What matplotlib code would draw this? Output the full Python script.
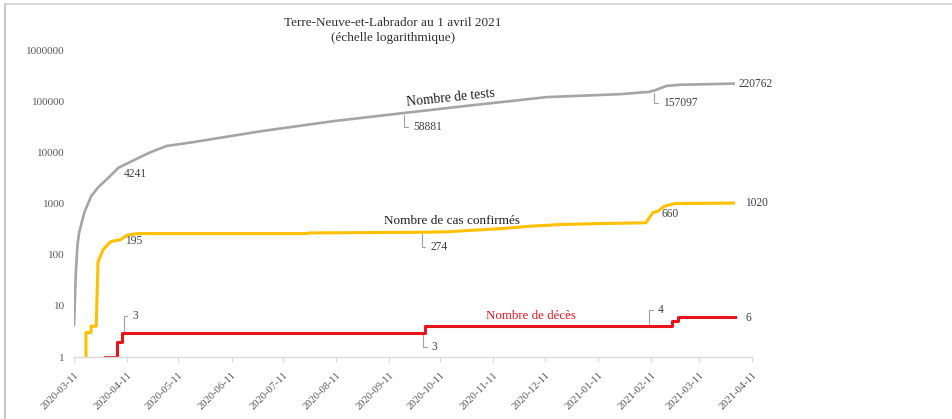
import matplotlib
matplotlib.use("Agg")
import matplotlib.pyplot as plt
from matplotlib.lines import Line2D
import pandas as pd

# ---------------- data ----------------
test_dates = ["2020-03-11", "2020-03-12", "2020-03-13", "2020-03-14", "2020-03-17",
              "2020-03-21", "2020-03-25", "2020-03-31", "2020-04-06", "2020-04-14",
              "2020-04-24", "2020-05-04", "2020-05-20", "2020-06-28", "2020-08-09",
              "2020-09-20", "2020-10-25", "2020-12-12", "2021-01-24", "2021-02-10",
              "2021-02-14", "2021-02-20", "2021-02-28", "2021-04-01"]
test_values = [4, 40, 150, 270, 665,
               1390, 2050, 3170, 5010, 6780,
               9840, 13300, 15900, 25800, 40500,
               58881, 80000, 120000, 137000, 152000,
               166000, 199000, 209000, 220762]

case_dates = ["2020-03-18", "2020-03-18", "2020-03-21", "2020-03-21", "2020-03-24",
              "2020-03-25", "2020-03-28", "2020-04-01", "2020-04-03", "2020-04-07",
              "2020-04-11", "2020-04-17", "2020-07-25", "2020-07-26", "2020-09-30",
              "2020-10-15", "2020-10-29", "2020-11-16", "2020-12-02", "2020-12-20",
              "2021-01-12", "2021-02-08", "2021-02-12", "2021-02-15", "2021-02-19",
              "2021-02-25", "2021-04-01"]
case_values = [1, 3, 3, 4, 4,
               72, 125, 175, 185, 195,
               240, 258, 258, 266, 274,
               280, 299, 323, 359, 388,
               405, 420, 660, 705, 890,
               1000, 1020]

death_dates = ["2020-03-29", "2020-04-05", "2020-04-08", "2020-10-02",
               "2021-02-23", "2021-02-27", "2021-04-01"]
death_values = [1, 2, 3, 4, 5, 6, 6]

xtick_labels = ["2020-03-11", "2020-04-11", "2020-05-11", "2020-06-11", "2020-07-11",
                "2020-08-11", "2020-09-11", "2020-10-11", "2020-11-11", "2020-12-11",
                "2021-01-11", "2021-02-11", "2021-03-11", "2021-04-11"]
ytick_values = [1, 10, 100, 1000, 10000, 100000, 1000000]
ytick_labels = ["1", "10", "100", "1000", "10000", "100000", "1000000"]

title_lines = ["Terre-Neuve-et-Labrador au 1 avril 2021", "(échelle logarithmique)"]

# ---------------- styling ----------------
plt.rcParams["font.family"] = ["Liberation Serif", "DejaVu Serif"]
GRAY = "#a5a5a5"
YELLOW = "#ffc000"
RED = "#e8141c"
TXT = "#404040"
TICK = "#595959"
AXC = "#d9d9d9"

fig = plt.figure(figsize=(9.52, 4.19), dpi=100)
ax = fig.add_axes([74 / 952, 1 - 357 / 419, (752 - 74) / 952, (357 - 50) / 419])

td = pd.to_datetime(test_dates)
cd = pd.to_datetime(case_dates)
dd = pd.to_datetime(death_dates)

ax.plot(td, test_values, color=GRAY, lw=1.9, solid_capstyle="butt", solid_joinstyle="round")
ax.plot(cd, case_values, color=YELLOW, lw=2.2, solid_capstyle="butt", solid_joinstyle="round")
ax.step(dd, death_values, where="post", color=RED, lw=2.2)

ax.set_yscale("log")
ax.set_ylim(1, 1e6)
ax.set_xlim(pd.Timestamp(xtick_labels[0]), pd.Timestamp(xtick_labels[-1]))

ax.set_yticks(ytick_values)
ax.set_yticklabels(ytick_labels)
ax.yaxis.set_minor_locator(matplotlib.ticker.NullLocator())
ax.tick_params(axis="y", length=0, pad=6.5, labelsize=8, labelcolor=TICK)

ax.set_xticks(pd.to_datetime(xtick_labels))
ax.set_xticklabels(xtick_labels, rotation=45, ha="right", rotation_mode="anchor")
ax.tick_params(axis="x", length=3.5, color=AXC, pad=6, labelsize=7.6, labelcolor=TICK)

for s in ["left", "top", "right"]:
    ax.spines[s].set_visible(False)
ax.spines["bottom"].set_color(AXC)
ax.spines["bottom"].set_linewidth(1.0)

T = pd.Timestamp

# series labels
ax.text(T("2020-10-17"), 118000, "Nombre de tests", fontsize=9.8, color="#202020",
        ha="center", va="center", rotation=6)
ax.text(T("2020-10-18"), 460, "Nombre de cas confirmés", fontsize=9.5, color="#202020",
        ha="center", va="center")
ax.text(T("2020-12-03"), 6.4, "Nombre de décès", fontsize=9.3, color=RED,
        ha="center", va="center")

# plain value labels
plain = [
    ("2020-04-09", 3700, "4241"),
    ("2020-04-10", 188, "195"),
    ("2021-02-17", 635, "660"),
    ("2021-04-07", 1010, "1020"),
    ("2021-04-03", 220762, "220762"),
    ("2021-04-07", 5.9, "6"),
]
for d, v, s in plain:
    ax.text(T(d), v, s, fontsize=8.3, color=TXT, ha="left", va="center")

# value labels with leader lines
leaders = [
    ("2020-04-09", 3, "2020-04-14", 6.2, "3"),
    ("2020-09-20", 58881, "2020-09-25", 31000, "58881"),
    ("2020-09-30", 274, "2020-10-05", 144, "274"),
    ("2020-10-01", 3, "2020-10-06", 1.57, "3"),
    ("2021-02-13", 157097, "2021-02-18", 93000, "157097"),
    ("2021-02-10", 4, "2021-02-15", 8.4, "4"),
]
for pd_, pv, td_, tv, s in leaders:
    ax.annotate(s, xy=(T(pd_), pv), xytext=(T(td_), tv), fontsize=8.3, color=TXT,
                ha="left", va="center",
                arrowprops=dict(arrowstyle="-", color="#a0a0a0", lw=0.8,
                                shrinkA=1.5, shrinkB=1.5, relpos=(0, 0.5),
                                connectionstyle="angle,angleA=0,angleB=90,rad=0"))

# title
fig.text(393 / 952, 1 - 23 / 419, title_lines[0], fontsize=9.5, color="#303030",
         ha="center", va="center")
fig.text(393 / 952, 1 - 38.5 / 419, title_lines[1], fontsize=9.5, color="#303030",
         ha="center", va="center")

# frame of the picture (left and top)
fig.add_artist(Line2D([5 / 952, 5 / 952], [0, 1 - 4 / 419], color="#bfbfbf", lw=1.2,
                      transform=fig.transFigure))
fig.add_artist(Line2D([5 / 952, 1], [1 - 4 / 419, 1 - 4 / 419], color="#d0d0d0", lw=1.2,
                      transform=fig.transFigure))

fig.savefig("out.png", dpi=100)
